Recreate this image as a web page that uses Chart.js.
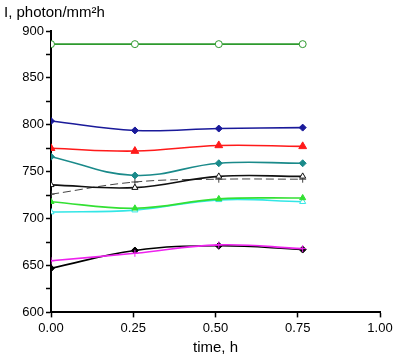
<!DOCTYPE html>
<html>
<head>
<meta charset="utf-8">
<script src="https://cdn.jsdelivr.net/npm/chart.js@4"></script>
<style>
  html, body { margin: 0; padding: 0; background: #fff; }
  #wrap { width: 400px; height: 360px; }
</style>
</head>
<body>
<div id="wrap"><canvas id="myChart"></canvas></div>
<script>
// time points, h
const times = [0, 0.255, 0.51, 0.765];

// intensity series, photon/mm²h
const sGreenCircle = [886, 886, 886, 886];
const sBlue = [804, 794, 796, 797];
const sRed = [775, 772, 778, 777];
const sTeal = [766, 746, 759, 759];
const sBlackTri = [736, 733, 745, 745];
const sBlackDash = [726, 739, 742, 742];
const sGreen = [718, 711, 721, 722];
const sCyan = [707, 709, 720, 718];
const sMagenta = [655, 663, 672, 668];
const sBlackDiamond = [647, 666, 671, 667];

const xTicks = [0, 0.25, 0.5, 0.75, 1];

function pts(vals) {
   return vals.map((v, i) => ({ x: times[i], y: v }));
}

function ds(vals, color, style, opts) {
   return Object.assign({
      data: pts(vals),
      borderColor: color,
      backgroundColor: color,
      pointStyle: style,
      pointRadius: 3.5,
      pointBorderWidth: 1,
      borderWidth: 1.6,
      tension: 0.4,
      fill: false
   }, opts || {});
}

const datasets = [
   ds(sGreenCircle, '#2e9a2e', 'circle', { backgroundColor: '#fff' }),
   ds(sBlue, '#1a1a9a', 'rectRot'),
   ds(sRed, '#ff1a1a', 'triangle', { pointRadius: 4.5 }),
   ds(sTeal, '#1a8a8a', 'rectRot'),
   ds(sBlackTri, '#111', 'triangle', { backgroundColor: '#fff' }),
   ds(sBlackDash, '#444', 'cross', { borderDash: [8, 4], borderWidth: 1 }),
   ds(sGreen, '#33e033', 'triangle'),
   ds(sCyan, '#33e6e6', 'triangle', { backgroundColor: '#fff' }),
   ds(sMagenta, '#ee22ee', 'cross'),
   ds(sBlackDiamond, '#000', 'rectRot')
];

const fontFamily = '"Liberation Sans", Arial, sans-serif';

new Chart(document.getElementById('myChart'), {
   type: 'line',
   data: { datasets: datasets },
   options: {
      responsive: true,
      maintainAspectRatio: false,
      animation: false,
      layout: { padding: { left: 4, right: 20, top: 0, bottom: 3 } },
      plugins: {
         legend: { display: false },
         tooltip: { enabled: false },
         title: {
            display: true,
            text: 'I, photon/mm²h',
            align: 'start',
            color: '#000',
            font: { family: fontFamily, size: 15, weight: 'normal' },
            padding: { top: 4, bottom: 9 }
         }
      },
      scales: {
         x: {
            type: 'linear',
            min: 0,
            max: 1,
            afterBuildTicks: axis => { axis.ticks = xTicks.map(v => ({ value: v })); },
            grid: { display: true, drawOnChartArea: false, color: '#000', tickLength: 5, tickWidth: 1.5 },
            border: { color: '#000', width: 2 },
            ticks: {
               color: '#000',
               padding: 3,
               font: { family: fontFamily, size: 13 },
               callback: v => v.toFixed(2)
            },
            title: {
               display: true,
               text: 'time, h',
               color: '#000',
               font: { family: fontFamily, size: 15 },
               padding: { top: 0, bottom: 0 }
            }
         },
         y: {
            min: 600,
            max: 900,
            afterFit: axis => { axis.width = 47; },
            grid: { display: true, drawOnChartArea: false, color: '#000', tickLength: 5, tickWidth: 1.5 },
            border: { color: '#000', width: 2 },
            ticks: {
               stepSize: 25,
               color: '#000',
               padding: 2,
               font: { family: fontFamily, size: 13 },
               callback: v => (v % 50 === 0 ? v : '')
            }
         }
      }
   }
});
</script>
</body>
</html>
